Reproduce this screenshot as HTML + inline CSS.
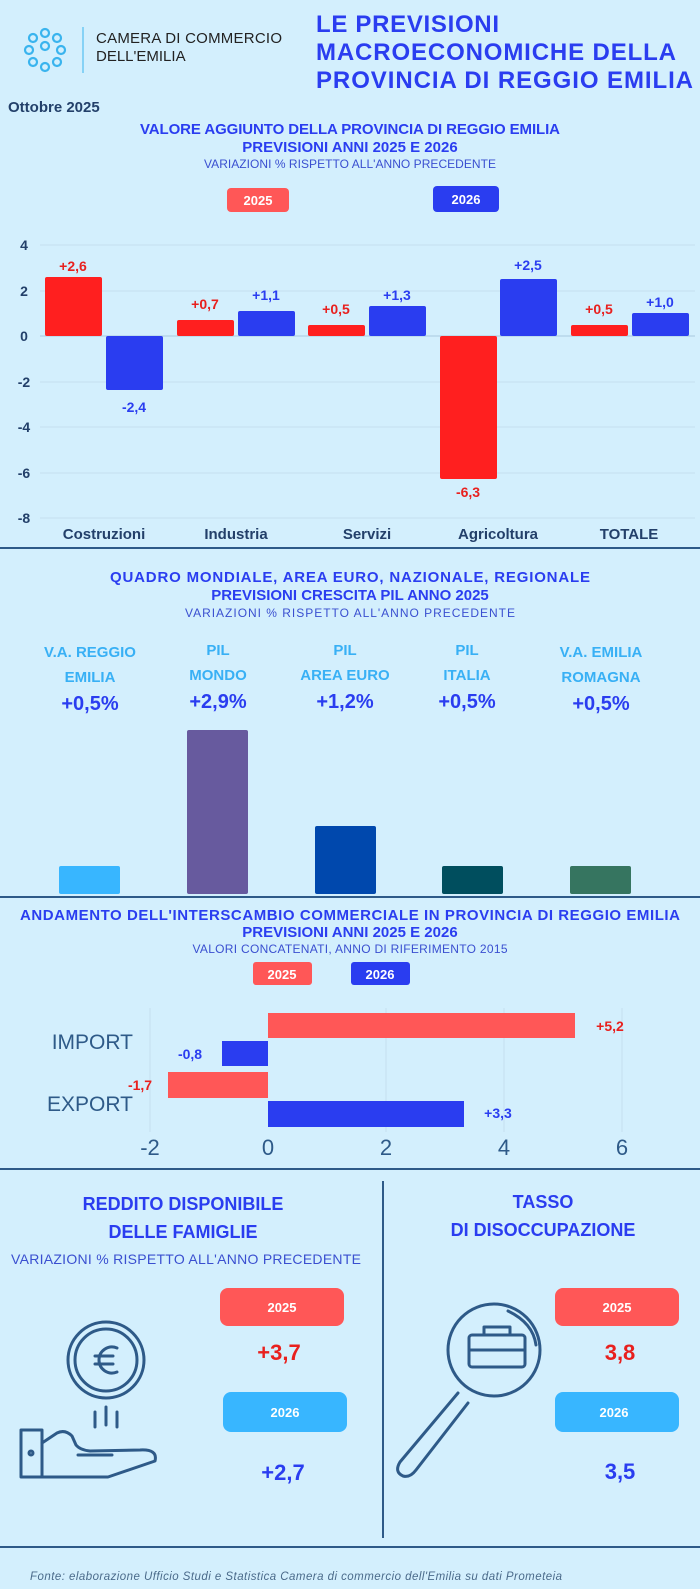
<!DOCTYPE html>
<html><head><meta charset="utf-8"><style>
html,body{margin:0;padding:0;background:#d3effd;}
svg{display:block}
text{font-family:"Liberation Sans Narrow","Liberation Sans",sans-serif;}
.b{font-weight:bold}
.t{fill:#2a3df0;font-weight:bold;font-size:15px}
.s{fill:#3a4fd0;font-size:12px}
.ax{fill:#23406a;font-size:14px;font-weight:bold;font-family:"Liberation Sans",sans-serif}
.r{fill:#e8201e;font-weight:bold;font-size:14px}
.bl{fill:#2a3df0;font-weight:bold;font-size:14px}
.lg{fill:#fff;font-weight:bold;font-size:13px}
.cb{fill:#38b0f5;font-weight:bold;font-size:15px}
.cv{fill:#2a3df0;font-weight:bold;font-size:20px}
</style></head><body>
<svg width="700" height="1589" viewBox="0 0 700 1589" xmlns="http://www.w3.org/2000/svg">
<rect width="700" height="1589" fill="#d3effd"/>
<g fill="none" stroke="#3ab4ee" stroke-width="2.2">
<circle cx="33" cy="38" r="4"/><circle cx="45" cy="33" r="4"/><circle cx="57" cy="38" r="4"/>
<circle cx="29" cy="50" r="4"/><circle cx="45" cy="46" r="4"/><circle cx="61" cy="50" r="4"/>
<circle cx="33" cy="62" r="4"/><circle cx="45" cy="67" r="4"/><circle cx="57" cy="62" r="4"/>
</g>
<line x1="83" y1="27" x2="83" y2="73" stroke="#3ab4ee" stroke-width="1"/>
<text x="96" y="43" style="font-family:'Liberation Sans',sans-serif;font-size:15px;fill:#222" textLength="186">CAMERA DI COMMERCIO</text>
<text x="96" y="61" style="font-family:'Liberation Sans',sans-serif;font-size:15px;fill:#222">DELL'EMILIA</text>
<g style="font-family:'Liberation Sans',sans-serif;font-weight:bold;font-size:24px;fill:#2a3df0">
<text x="316" y="32" textLength="183">LE PREVISIONI</text>
<text x="316" y="60" textLength="360">MACROECONOMICHE DELLA</text>
<text x="316" y="88" textLength="377">PROVINCIA DI REGGIO EMILIA</text>
</g>
<text x="8" y="112" class="b" style="fill:#23406a;font-size:15px">Ottobre 2025</text>
<text x="350" y="134" text-anchor="middle" class="t" textLength="420">VALORE AGGIUNTO DELLA PROVINCIA DI REGGIO EMILIA</text>
<text x="350" y="152" text-anchor="middle" class="t">PREVISIONI ANNI 2025 E 2026</text>
<text x="350" y="168" text-anchor="middle" class="s" textLength="292">VARIAZIONI % RISPETTO ALL'ANNO PRECEDENTE</text>
<rect x="227" y="188" width="62" height="24" rx="4" fill="#ff5757"/><text x="258" y="205" text-anchor="middle" class="lg">2025</text>
<rect x="433" y="186" width="66" height="26" rx="4" fill="#2a3df0"/><text x="466" y="204" text-anchor="middle" class="lg">2026</text>
<g stroke="#c4dff0" stroke-width="1">
<line x1="40" y1="245" x2="695" y2="245"/><line x1="40" y1="291" x2="695" y2="291"/>
<line x1="40" y1="382" x2="695" y2="382"/><line x1="40" y1="427" x2="695" y2="427"/>
<line x1="40" y1="473" x2="695" y2="473"/><line x1="40" y1="518" x2="695" y2="518"/>
</g>
<line x1="40" y1="336" x2="695" y2="336" stroke="#a9c9df"/>
<g class="ax" text-anchor="middle">
<text x="24" y="250">4</text><text x="24" y="296">2</text><text x="24" y="341">0</text>
<text x="24" y="387">-2</text><text x="24" y="432">-4</text><text x="24" y="478">-6</text><text x="24" y="523">-8</text>
</g>
<g fill="#ff1f1f">
<rect x="45" y="277" width="57" height="59" rx="2"/>
<rect x="177" y="320" width="57" height="16" rx="2"/>
<rect x="308" y="325" width="57" height="11" rx="2"/>
<rect x="440" y="336" width="57" height="143" rx="2"/>
<rect x="571" y="325" width="57" height="11" rx="2"/>
</g>
<g fill="#2a3df0">
<rect x="106" y="336" width="57" height="54" rx="2"/>
<rect x="238" y="311" width="57" height="25" rx="2"/>
<rect x="369" y="306" width="57" height="30" rx="2"/>
<rect x="500" y="279" width="57" height="57" rx="2"/>
<rect x="632" y="313" width="57" height="23" rx="2"/>
</g>
<g text-anchor="middle">
<text x="73" y="271" class="r">+2,6</text><text x="134" y="412" class="bl">-2,4</text>
<text x="205" y="309" class="r">+0,7</text><text x="266" y="300" class="bl">+1,1</text>
<text x="336" y="314" class="r">+0,5</text><text x="397" y="300" class="bl">+1,3</text>
<text x="468" y="497" class="r">-6,3</text><text x="528" y="270" class="bl">+2,5</text>
<text x="599" y="314" class="r">+0,5</text><text x="660" y="307" class="bl">+1,0</text>
</g>
<g class="ax" text-anchor="middle" style="font-size:15px;font-weight:bold">
<text x="104" y="539">Costruzioni</text><text x="236" y="539">Industria</text><text x="367" y="539">Servizi</text>
<text x="498" y="539">Agricoltura</text><text x="629" y="539">TOTALE</text>
</g>
<line x1="0" y1="548" x2="700" y2="548" stroke="#2e5a88" stroke-width="2"/>
<text x="350" y="582" text-anchor="middle" class="t" textLength="480">QUADRO MONDIALE, AREA EURO, NAZIONALE, REGIONALE</text>
<text x="350" y="600" text-anchor="middle" class="t">PREVISIONI CRESCITA PIL ANNO 2025</text>
<text x="350" y="617" text-anchor="middle" class="s" textLength="330">VARIAZIONI % RISPETTO ALL'ANNO PRECEDENTE</text>
<g text-anchor="middle">
<text x="90" y="657" class="cb">V.A. REGGIO</text><text x="90" y="682" class="cb">EMILIA</text><text x="90" y="710" class="cv">+0,5%</text>
<text x="218" y="655" class="cb">PIL</text><text x="218" y="680" class="cb">MONDO</text><text x="218" y="708" class="cv">+2,9%</text>
<text x="345" y="655" class="cb">PIL</text><text x="345" y="680" class="cb">AREA EURO</text><text x="345" y="708" class="cv">+1,2%</text>
<text x="467" y="655" class="cb">PIL</text><text x="467" y="680" class="cb">ITALIA</text><text x="467" y="708" class="cv">+0,5%</text>
<text x="601" y="657" class="cb">V.A. EMILIA</text><text x="601" y="682" class="cb">ROMAGNA</text><text x="601" y="710" class="cv">+0,5%</text>
</g>
<rect x="59" y="866" width="61" height="28" rx="2" fill="#38b6ff"/>
<rect x="187" y="730" width="61" height="164" rx="2" fill="#675a9e"/>
<rect x="315" y="826" width="61" height="68" rx="2" fill="#0048ad"/>
<rect x="442" y="866" width="61" height="28" rx="2" fill="#004e5e"/>
<rect x="570" y="866" width="61" height="28" rx="2" fill="#367560"/>
<line x1="0" y1="897" x2="700" y2="897" stroke="#2e5a88" stroke-width="2"/>
<text x="350" y="920" text-anchor="middle" class="t" textLength="660">ANDAMENTO DELL'INTERSCAMBIO COMMERCIALE IN PROVINCIA DI REGGIO EMILIA</text>
<text x="350" y="937" text-anchor="middle" class="t">PREVISIONI ANNI 2025 E 2026</text>
<text x="350" y="953" text-anchor="middle" class="s" textLength="315">VALORI CONCATENATI, ANNO DI RIFERIMENTO 2015</text>
<rect x="253" y="962" width="59" height="23" rx="3" fill="#ff5757"/><text x="282" y="979" text-anchor="middle" class="lg">2025</text>
<rect x="351" y="962" width="59" height="23" rx="3" fill="#2a3df0"/><text x="380" y="979" text-anchor="middle" class="lg">2026</text>
<g stroke="#c4dff0"><line x1="150" y1="1008" x2="150" y2="1132"/><line x1="386" y1="1008" x2="386" y2="1132"/><line x1="504" y1="1008" x2="504" y2="1132"/><line x1="622" y1="1008" x2="622" y2="1132"/></g>
<rect x="268" y="1013" width="307" height="25" fill="#ff5757"/>
<rect x="222" y="1041" width="46" height="25" fill="#2a3df0"/>
<rect x="168" y="1072" width="100" height="26" fill="#ff5757"/>
<rect x="268" y="1101" width="196" height="26" fill="#2a3df0"/>
<text x="610" y="1031" text-anchor="middle" class="r">+5,2</text>
<text x="190" y="1059" text-anchor="middle" class="bl">-0,8</text>
<text x="140" y="1090" text-anchor="middle" class="r">-1,7</text>
<text x="498" y="1118" text-anchor="middle" class="bl">+3,3</text>
<text x="133" y="1049" text-anchor="end" style="fill:#2e5a88;font-size:21px">IMPORT</text>
<text x="133" y="1111" text-anchor="end" style="fill:#2e5a88;font-size:21px">EXPORT</text>
<g text-anchor="middle" style="fill:#2e5a88;font-size:22px">
<text x="150" y="1155">-2</text><text x="268" y="1155">0</text><text x="386" y="1155">2</text><text x="504" y="1155">4</text><text x="622" y="1155">6</text>
</g>
<line x1="0" y1="1169" x2="700" y2="1169" stroke="#2e5a88" stroke-width="2"/>
<line x1="383" y1="1181" x2="383" y2="1538" stroke="#2e5a88" stroke-width="2"/>
<text x="183" y="1210" text-anchor="middle" class="t" style="font-size:18px">REDDITO DISPONIBILE</text>
<text x="183" y="1238" text-anchor="middle" class="t" style="font-size:18px">DELLE FAMIGLIE</text>
<text x="186" y="1264" text-anchor="middle" class="s" style="font-size:14px" textLength="350">VARIAZIONI % RISPETTO ALL'ANNO PRECEDENTE</text>
<text x="543" y="1208" text-anchor="middle" class="t" style="font-size:18px">TASSO</text>
<text x="543" y="1236" text-anchor="middle" class="t" style="font-size:18px">DI DISOCCUPAZIONE</text>
<rect x="220" y="1288" width="124" height="38" rx="8" fill="#ff5757"/><text x="282" y="1312" text-anchor="middle" class="lg">2025</text>
<rect x="223" y="1392" width="124" height="40" rx="8" fill="#38b6ff"/><text x="285" y="1417" text-anchor="middle" class="lg">2026</text>
<rect x="555" y="1288" width="124" height="38" rx="8" fill="#ff5757"/><text x="617" y="1312" text-anchor="middle" class="lg">2025</text>
<rect x="555" y="1392" width="124" height="40" rx="8" fill="#38b6ff"/><text x="614" y="1417" text-anchor="middle" class="lg">2026</text>
<text x="279" y="1360" text-anchor="middle" class="r" style="font-size:22px">+3,7</text>
<text x="283" y="1480" text-anchor="middle" class="bl" style="font-size:22px">+2,7</text>
<text x="620" y="1360" text-anchor="middle" class="r" style="font-size:22px">3,8</text>
<text x="620" y="1479" text-anchor="middle" class="bl" style="font-size:22px">3,5</text>
<g fill="none" stroke="#2e5a88" stroke-width="3" stroke-linecap="round" stroke-linejoin="round">
<circle cx="106" cy="1360" r="38"/><circle cx="106" cy="1360" r="31"/>
<path d="M117 1348 a13 13 0 1 0 0 24"/><line x1="95" y1="1356" x2="113" y2="1356"/><line x1="95" y1="1364" x2="113" y2="1364"/>
<line x1="95" y1="1412" x2="95" y2="1427"/><line x1="106" y1="1407" x2="106" y2="1425"/><line x1="117" y1="1412" x2="117" y2="1427"/>
<rect x="21" y="1430" width="21" height="47"/>
<path d="M42 1443 L57 1433 Q65 1429 72 1436 L76 1445 Q80 1450 90 1451 L140 1450 Q158 1449 155 1461 L108 1477 L42 1477"/>
<line x1="78" y1="1455" x2="112" y2="1455"/>
<circle cx="31" cy="1453" r="2"/>
<circle cx="494" cy="1350" r="46"/>
<path d="M458 1393 L400 1462 Q394 1472 403 1476 Q410 1478 416 1470 L468 1403"/>
<path d="M508 1311 Q533 1323 536 1345"/>
<rect x="469" y="1335" width="56" height="32" rx="3"/><path d="M484 1335 v-8 h26 v8"/><line x1="469" y1="1350" x2="525" y2="1350"/>
</g>
<line x1="0" y1="1547" x2="700" y2="1547" stroke="#2e5a88" stroke-width="2"/>
<text x="30" y="1580" style="font-family:'Liberation Sans',sans-serif;font-style:italic;font-size:11.5px;fill:#4a6a8a" textLength="532">Fonte: elaborazione Ufficio Studi e Statistica Camera di commercio dell'Emilia su dati Prometeia</text>
</svg>
</body></html>
